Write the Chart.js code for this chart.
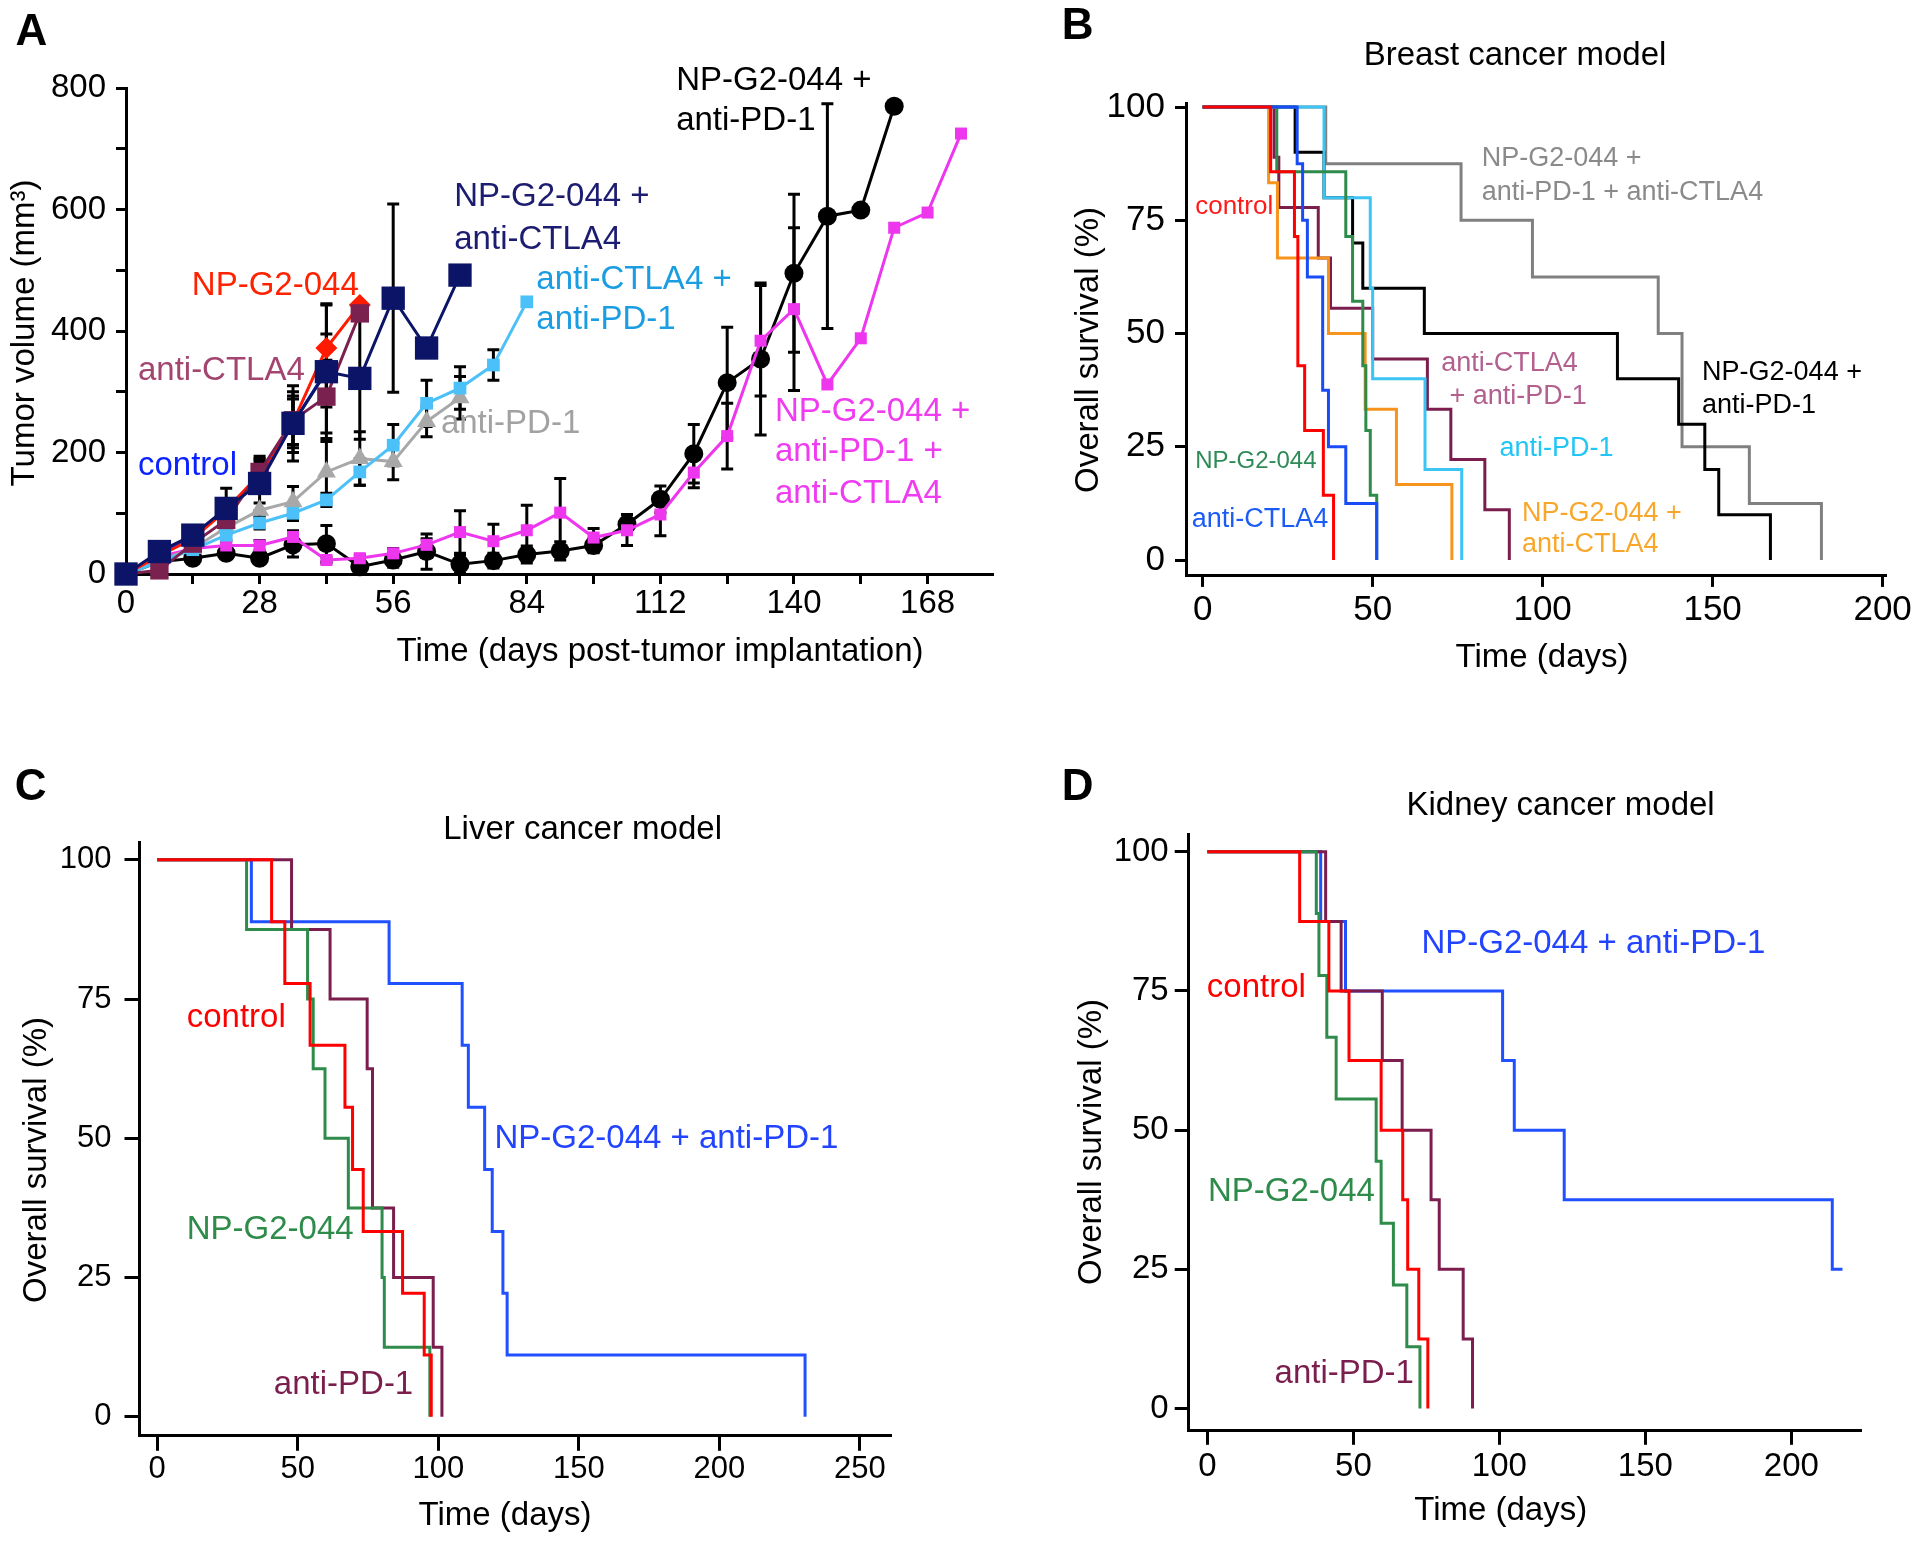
<!DOCTYPE html>
<html>
<head>
<meta charset="utf-8">
<script src="https://cdn.jsdelivr.net/npm/chart.js@4.4.1/dist/chart.umd.min.js"></script>
<style>
html, body { margin: 0; padding: 0; background: #fff; }
body { width: 1920px; height: 1545px; position: relative; overflow: hidden; }
canvas { position: absolute; }
</style>
</head>
<body>
<canvas id="chartA" width="1010" height="700" style="left:0;top:0"></canvas>
<canvas id="chartB" width="880" height="700" style="left:1040px;top:0"></canvas>
<canvas id="chartC" width="960" height="805" style="left:0;top:740px"></canvas>
<canvas id="chartD" width="880" height="805" style="left:1040px;top:740px"></canvas>
<script>
// ---- Panel A: tumor volume (mm3) every 7 days ----
const daysA = [0,7,14,21,28,35,42,49,56,63,70,77,84,91,98,105,112,119,126,133,140,147,154,161,168,175];
const volControl = [0, 32, 62, 108, 160, 248, 335];
const errControl = [0, 5, 10, 15, 25, 40, 60];
const volNP = [0, 30, 58, 105, 165, 250, 372, 443];
const errNP = [0, 5, 10, 15, 25, 50, 73, 0];
const volCTLA4 = [0, 6, 50, 89, 168, 253, 292, 429];
const errCTLA4 = [0, 3, 8, 12, 20, 40, 60, 0];
const volNPCTLA4 = [0, 37, 64, 108, 149, 248, 333, 322, 454, 372, 492];
const errNPCTLA4 = [0, 6, 15, 33, 45, 62, 110, 100, 155, 0, 0];
const volPD1 = [0, 22, 42, 76, 105, 119, 168, 190, 185, 251, 290];
const errPD1 = [0, 4, 6, 10, 12, 25, 50, 44, 30, 25, 35];
const volCTLA4PD1 = [0, 20, 40, 64, 84, 100, 122, 168, 212, 281, 306, 344, 448];
const errCTLA4PD1 = [0, 3, 5, 8, 10, 12, 11, 22, 34, 38, 35, 25, 0];
const volTriple = [0, 28, 42, 47, 47, 61, 23, 26, 34, 48, 69, 54, 72, 101, 60, 72, 98, 167, 227, 384, 436, 312, 388, 570, 595, 725];
const errTriple = [0, 4, 6, 6, 8, 10, 5, 5, 8, 10, 35, 28, 41, 56, 15, 25, 35, 25, 54, 91, 134, 0, 0, 0, 0, 0];
const volNPPD1 = [0, 20, 26, 34, 26, 48, 50, 12, 23, 37, 16, 22, 32, 38, 47, 82, 123, 198, 315, 354, 495, 589, 599, 770];
const errNPPD1 = [0, 5, 6, 8, 8, 20, 30, 10, 12, 29, 15, 12, 14, 15, 12, 16, 22, 48, 91, 125, 130, 185, 0, 0];
const ticksAx = [0,14,28,42,56,70,84,98,112,126,140,154,168];
const labelsAx = [0,28,56,84,112,140,168];
const ticksAy = [0,100,200,300,400,500,600,700,800];
const labelsAy = [0,200,400,600,800];

// ---- Panel B: breast cancer survival (days, %) ----
const bControlT = [0, 20, 27, 28, 30, 35.5, 38.5];
const bControlS = [100, 85.7, 71.4, 42.9, 28.6, 14.3, 0];
const bNPT = [0, 21.8, 42.1, 44.1, 47.1, 48, 49.3, 51.2];
const bNPS = [100, 85.7, 71.4, 57.1, 42.9, 28.6, 14.3, 0];
const bCTLA4T = [0, 27.8, 29.4, 30.8, 35.3, 37, 42.1, 51.2];
const bCTLA4S = [100, 87.5, 75, 62.5, 37.5, 25, 12.5, 0];
const bCTLA4PD1T = [0, 21, 22.4, 34, 37.6, 50, 66.1, 73, 83, 90.2];
const bCTLA4PD1S = [100, 88.9, 77.8, 66.7, 55.6, 44.4, 33.3, 22.2, 11.1, 0];
const bPD1T = [0, 35.7, 49.3, 50, 65.4, 76.2];
const bPD1S = [100, 80, 60, 40, 20, 0];
const bNPCTLA4T = [0, 19.4, 22, 37, 47.8, 57, 73.3];
const bNPCTLA4S = [100, 83.3, 66.7, 50, 33.3, 16.7, 0];
const bNPPD1T = [0, 27.2, 35.7, 44.1, 47.1, 65.2, 122, 140, 147.7, 151.8, 167];
const bNPPD1S = [100, 90, 80, 70, 60, 50, 40, 30, 20, 10, 0];
const bTripleT = [0, 36.2, 76, 97, 134, 141, 160.8, 182];
const bTripleS = [100, 87.5, 75, 62.5, 50, 25, 12.5, 0];

// ---- Panel C: liver cancer survival ----
const cControlT = [0, 40.7, 45.4, 54.4, 66.8, 69.5, 73.3, 87.3, 95, 97.5];
const cControlS = [100, 88.9, 77.8, 66.7, 55.6, 44.4, 33.3, 22.2, 11.1, 0];
const cNPT = [0, 31.8, 53.5, 55.5, 59.7, 68, 80, 80.8, 97];
const cNPS = [100, 87.5, 75, 62.5, 50, 37.5, 25, 12.5, 0];
const cPD1T = [0, 47.8, 61.5, 74.7, 76.6, 84.1, 98.2, 101.3];
const cPD1S = [100, 87.5, 75, 62.5, 37.5, 25, 12.5, 0];
const cNPPD1T = [0, 33.5, 82.5, 108.5, 110.7, 116.5, 119.2, 123, 124.5, 230.5];
const cNPPD1S = [100, 88.9, 77.8, 66.7, 55.6, 44.4, 33.3, 22.2, 11.1, 0];

// ---- Panel D: kidney cancer survival ----
const dControlT = [0, 31.6, 41.6, 48.5, 59.5, 66.9, 68.6, 72.4, 75.5];
const dControlS = [100, 87.5, 75, 62.5, 50, 37.5, 25, 12.5, 0];
const dNPT = [0, 37.3, 38.2, 40.9, 44.1, 57.8, 59.5, 63.7, 68.3, 72.8];
const dNPS = [100, 88.9, 77.8, 66.7, 55.6, 44.4, 33.3, 22.2, 11.1, 0];
const dPD1T = [0, 40.5, 45.8, 59.9, 66.7, 76.6, 79.4, 87.6, 90.8];
const dPD1S = [100, 87.5, 75, 62.5, 50, 37.5, 25, 12.5, 0];
const dNPPD1T = [0, 38.8, 47.3, 101.1, 105.1, 122.2, 214, 217.5];
const dNPPD1S = [100, 87.5, 75, 62.5, 50, 37.5, 25, 25];

const survTicksX = [0, 50, 100, 150, 200];
const survTicksX250 = [0, 50, 100, 150, 200, 250];
const survTicksY = [0, 25, 50, 75, 100];

const FONT = '"Liberation Sans", Arial, Helvetica, sans-serif';
Chart.defaults.font.family = FONT;
Chart.defaults.color = '#000';

function axis(o) {
    return {
        type: 'linear',
        min: o.min,
        max: o.max,
        afterFit: s => { if (s.isHorizontal()) s.height = o.size; else s.width = o.size; },
        afterBuildTicks: s => { s.ticks = o.ticks.map(v => ({ value: v })); },
        grid: { drawOnChartArea: false, drawTicks: true, tickLength: o.tickLen, lineWidth: 3, color: '#000' },
        border: { display: true, color: '#000', width: 3 },
        ticks: {
            autoSkip: false, maxRotation: 0, color: '#000', padding: o.pad,
            font: { size: o.font, family: FONT },
            callback: v => (o.labelled.includes(v) ? String(v) : '')
        }
    };
}

// draws panel letter, title, axis titles and in-plot labels
const panelText = {
    id: 'panelText',
    afterDraw(chart, args, opts) {
        const ctx = chart.ctx;
        const xs = chart.scales.x, ys = chart.scales.y;
        ctx.save();
        ctx.textBaseline = 'middle';
        ctx.fillStyle = '#000';
        ctx.textAlign = 'center';
        ctx.font = 'bold 44px ' + FONT;
        ctx.fillText(opts.letter, opts.letterPos[0], opts.letterPos[1]);
        ctx.font = opts.textSize + 'px ' + FONT;
        if (opts.title) ctx.fillText(opts.title, opts.titlePos[0], opts.titlePos[1]);
        ctx.fillText(opts.xTitle, opts.xTitlePos[0], opts.xTitlePos[1]);
        ctx.save();
        ctx.translate(opts.yTitlePos[0], opts.yTitlePos[1]);
        ctx.rotate(-Math.PI / 2);
        ctx.fillText(opts.yTitle, 0, 0);
        ctx.restore();
        ctx.textAlign = 'left';
        opts.labels.forEach(l => {
            ctx.font = l.size + 'px ' + FONT;
            ctx.fillStyle = l.color;
            ctx.fillText(l.text, xs.getPixelForValue(l.x), ys.getPixelForValue(l.y));
        });
        ctx.restore();
    }
};

// SEM error bars for panel A, under the markers
const errorBars = {
    id: 'errorBars',
    beforeDatasetsDraw(chart) {
        const ctx = chart.ctx;
        const ys = chart.scales.y;
        ctx.save();
        ctx.strokeStyle = '#000';
        ctx.lineWidth = 3;
        chart.data.datasets.forEach((ds, i) => {
            const meta = chart.getDatasetMeta(i);
            meta.data.forEach((pt, j) => {
                const e = ds.errors[j];
                if (!e) return;
                const v = ds.data[j].y;
                const top = ys.getPixelForValue(v + e);
                const bot = ys.getPixelForValue(Math.max(v - e, 0));
                ctx.beginPath();
                ctx.moveTo(pt.x, top); ctx.lineTo(pt.x, bot);
                ctx.moveTo(pt.x - 6, top); ctx.lineTo(pt.x + 6, top);
                ctx.moveTo(pt.x - 6, bot); ctx.lineTo(pt.x + 6, bot);
                ctx.stroke();
            });
        });
        ctx.restore();
    }
};

function volSeries(values, errors, color, marker, r) {
    return {
        data: values.map((v, i) => ({ x: daysA[i], y: v })),
        errors: errors,
        borderColor: color, backgroundColor: color, borderWidth: 3,
        pointStyle: marker, pointRadius: r, pointHoverRadius: r, pointBorderWidth: 0,
        clip: false, tension: 0
    };
}

new Chart(document.getElementById('chartA'), {
    type: 'line',
    data: {
        datasets: [
            volSeries(volNPCTLA4, errNPCTLA4, '#0b1466', 'rect', 16.5),
            volSeries(volCTLA4, errCTLA4, '#7b2150', 'rect', 13),
            volSeries(volNP, errNP, '#ff1a00', 'rectRot', 11),
            volSeries(volControl, errControl, '#1030f0', 'rect', 8),
            volSeries(volCTLA4PD1, errCTLA4PD1, '#4cc0f8', 'rect', 9),
            volSeries(volPD1, errPD1, '#a8a8a8', 'triangle', 11),
            volSeries(volTriple, errTriple, '#ee36ee', 'rect', 8.5),
            volSeries(volNPPD1, errNPPD1, '#000000', 'circle', 9.5)
        ]
    },
    options: {
        responsive: false, animation: false, events: [],
        layout: { padding: { left: 0, top: 88, right: 18, bottom: 0 } },
        plugins: {
            legend: { display: false }, tooltip: { enabled: false },
            panelText: {
                letter: 'A', letterPos: [31.5, 32.5], textSize: 33,
                xTitle: 'Time (days post-tumor implantation)', xTitlePos: [660, 652],
                yTitle: 'Tumor volume (mm\u00B3)', yTitlePos: [25, 333],
                labels: [
                    { text: 'NP-G2-044', x: 13.8, y: 474, color: '#ff2200', size: 33 },
                    { text: 'anti-CTLA4', x: 2.5, y: 334, color: '#a3456f', size: 33 },
                    { text: 'control', x: 2.5, y: 178, color: '#0a22ff', size: 33 },
                    { text: 'NP-G2-044 +', x: 68.8, y: 620, color: '#1c1c70', size: 33 },
                    { text: 'anti-CTLA4', x: 68.8, y: 550, color: '#1c1c70', size: 33 },
                    { text: 'anti-CTLA4 +', x: 86, y: 484, color: '#1b9de2', size: 33 },
                    { text: 'anti-PD-1', x: 86, y: 418, color: '#1b9de2', size: 33 },
                    { text: 'anti-PD-1', x: 66, y: 247, color: '#a2a2a2', size: 33 },
                    { text: 'NP-G2-044 +', x: 115.3, y: 811, color: '#000000', size: 33 },
                    { text: 'anti-PD-1', x: 115.3, y: 746, color: '#000000', size: 33 },
                    { text: 'NP-G2-044 +', x: 136, y: 267, color: '#f03cf0', size: 33 },
                    { text: 'anti-PD-1 +', x: 136, y: 201, color: '#f03cf0', size: 33 },
                    { text: 'anti-CTLA4', x: 136, y: 132, color: '#f03cf0', size: 33 }
                ]
            }
        },
        scales: {
            x: axis({ min: 0, max: 181.5, size: 126, ticks: ticksAx, labelled: labelsAx, tickLen: 10, pad: 0, font: 33 }),
            y: axis({ min: 0, max: 800, size: 126, ticks: ticksAy, labelled: labelsAy, tickLen: 10, pad: 10, font: 33 })
        }
    },
    plugins: [errorBars, panelText]
});

function survSeries(times, surv, color) {
    return {
        data: times.map((t, i) => ({ x: t, y: surv[i] })),
        borderColor: color, backgroundColor: color, borderWidth: 3,
        stepped: 'before', pointRadius: 0, clip: false
    };
}

function survOptions(o) {
    return {
        responsive: false, animation: false, events: [],
        layout: { padding: o.padding },
        plugins: { legend: { display: false }, tooltip: { enabled: false }, panelText: o.text },
        scales: {
            x: axis({ min: o.xMin, max: o.xMax, size: o.xSize, ticks: o.xTicks, labelled: o.xTicks, tickLen: o.tickLen, pad: o.xPad, font: o.tickFont }),
            y: axis({ min: o.yMin, max: o.yMax, size: o.ySize, ticks: survTicksY, labelled: survTicksY, tickLen: o.tickLen, pad: o.yPad, font: o.tickFont })
        }
    };
}

new Chart(document.getElementById('chartB'), {
    type: 'line',
    data: {
        datasets: [
            survSeries(bControlT, bControlS, '#ff0000'),
            survSeries(bCTLA4T, bCTLA4S, '#1a4cf5'),
            survSeries(bNPT, bNPS, '#2e8b4a'),
            survSeries(bNPCTLA4T, bNPCTLA4S, '#f7941d'),
            survSeries(bPD1T, bPD1S, '#3cc4f5'),
            survSeries(bCTLA4PD1T, bCTLA4PD1S, '#7b1e4e'),
            survSeries(bNPPD1T, bNPPD1S, '#000000'),
            survSeries(bTripleT, bTripleS, '#808080')
        ]
    },
    options: survOptions({
        padding: { left: 0, top: 103.4, right: 35, bottom: 0 },
        xMin: -4.9, xMax: 200.7, yMin: -3.5, yMax: 100.8, xSize: 124.1, ySize: 146,
        tickLen: 11, xPad: 2, yPad: 10, tickFont: 35,
        xTicks: survTicksX,
        text: {
            letter: 'B', letterPos: [37.7, 26.8], textSize: 33,
            title: 'Breast cancer model', titlePos: [475, 55.8],
            xTitle: 'Time (days)', xTitlePos: [502, 658],
            yTitle: 'Overall survival (%)', yTitlePos: [48.8, 350],
            labels: [
                { text: 'control', x: -2.2, y: 77.9, color: '#ff1a1a', size: 26 },
                { text: 'NP-G2-044 +', x: 82.1, y: 88.6, color: '#8a8a8a', size: 27 },
                { text: 'anti-PD-1 + anti-CTLA4', x: 82.1, y: 81.2, color: '#8a8a8a', size: 27 },
                { text: 'anti-CTLA4', x: 70.2, y: 43.3, color: '#b3608f', size: 27 },
                { text: '+ anti-PD-1', x: 72.6, y: 36.1, color: '#b3608f', size: 27 },
                { text: 'NP-G2-044 +', x: 146.9, y: 41.3, color: '#000000', size: 27 },
                { text: 'anti-PD-1', x: 146.9, y: 34.1, color: '#000000', size: 27 },
                { text: 'anti-PD-1', x: 87.3, y: 24.6, color: '#22c6f5', size: 27 },
                { text: 'NP-G2-044 +', x: 93.9, y: 10.3, color: '#f9a72b', size: 27 },
                { text: 'anti-CTLA4', x: 93.9, y: 3.4, color: '#f9a72b', size: 27 },
                { text: 'NP-G2-044', x: -2.2, y: 21.7, color: '#2e8b57', size: 24 },
                { text: 'anti-CTLA4', x: -3.2, y: 9, color: '#1a5cf5', size: 27 }
            ]
        }
    }),
    plugins: [panelText]
});

new Chart(document.getElementById('chartC'), {
    type: 'line',
    data: {
        datasets: [
            survSeries(cControlT, cControlS, '#ff0000'),
            survSeries(cNPT, cNPS, '#2e8b4a'),
            survSeries(cPD1T, cPD1S, '#7b1e4e'),
            survSeries(cNPPD1T, cNPPD1S, '#2050ff')
        ]
    },
    options: survOptions({
        padding: { left: 0, top: 102.6, right: 69.5, bottom: 0 },
        xMin: -6.3, xMax: 260.9, yMin: -3.4, yMax: 103.1, xSize: 109.2, ySize: 139.5,
        tickLen: 15, xPad: 0, yPad: 13, tickFont: 31,
        xTicks: survTicksX250,
        text: {
            letter: 'C', letterPos: [30.6, 47.5], textSize: 33,
            title: 'Liver cancer model', titlePos: [582.6, 90],
            xTitle: 'Time (days)', xTitlePos: [505, 776],
            yTitle: 'Overall survival (%)', yTitlePos: [36.7, 420],
            labels: [
                { text: 'control', x: 10.5, y: 71.6, color: '#ff0000', size: 33 },
                { text: 'NP-G2-044 + anti-PD-1', x: 120, y: 49.9, color: '#2244ff', size: 33 },
                { text: 'NP-G2-044', x: 10.5, y: 33.6, color: '#2e8b4a', size: 33 },
                { text: 'anti-PD-1', x: 41.5, y: 5.7, color: '#7b1e4e', size: 33 }
            ]
        }
    }),
    plugins: [panelText]
});

new Chart(document.getElementById('chartD'), {
    type: 'line',
    data: {
        datasets: [
            survSeries(dControlT, dControlS, '#ff0000'),
            survSeries(dNPT, dNPS, '#2e8b4a'),
            survSeries(dPD1T, dPD1S, '#7b1e4e'),
            survSeries(dNPPD1T, dNPPD1S, '#2050ff')
        ]
    },
    options: survOptions({
        padding: { left: 0, top: 94, right: 59.7, bottom: 0 },
        xMin: -6.4, xMax: 223.6, yMin: -4.0, yMax: 103.2, xSize: 114.2, ySize: 148.7,
        tickLen: 14, xPad: 2, yPad: 6, tickFont: 33,
        xTicks: survTicksX,
        text: {
            letter: 'D', letterPos: [37.7, 47.5], textSize: 33,
            title: 'Kidney cancer model', titlePos: [520.6, 66],
            xTitle: 'Time (days)', xTitlePos: [460.7, 771],
            yTitle: 'Overall survival (%)', yTitlePos: [51.6, 402],
            labels: [
                { text: 'NP-G2-044 + anti-PD-1', x: 73.3, y: 83.4, color: '#2244ff', size: 33 },
                { text: 'control', x: -0.2, y: 75.5, color: '#ff0000', size: 33 },
                { text: 'NP-G2-044', x: 0.2, y: 38.9, color: '#2e8b4a', size: 33 },
                { text: 'anti-PD-1', x: 23, y: 6.2, color: '#7b1e4e', size: 33 }
            ]
        }
    }),
    plugins: [panelText]
});
</script>
</body>
</html>
